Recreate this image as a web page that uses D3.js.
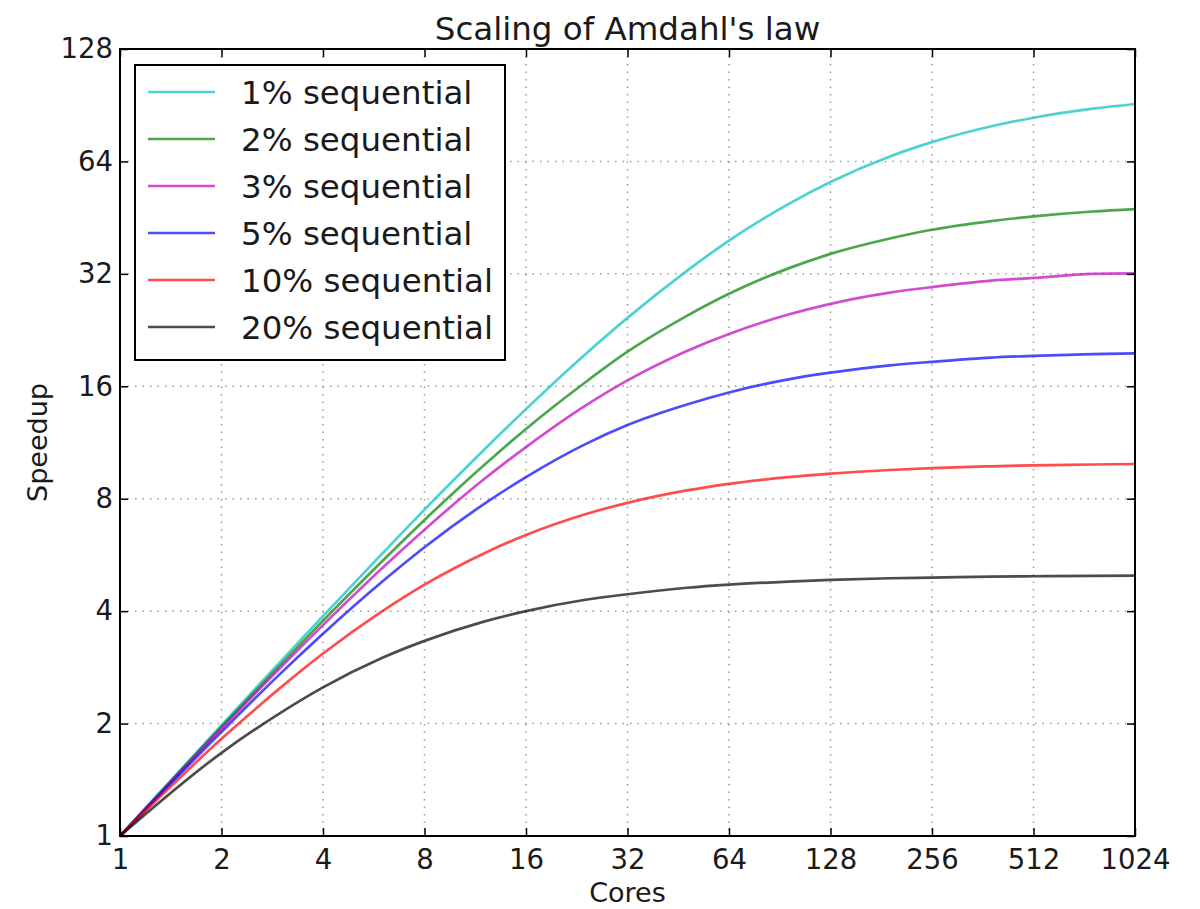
<!DOCTYPE html>
<html>
<head>
<meta charset="utf-8">
<script src="https://cdn.jsdelivr.net/npm/d3@7"></script>
<style>
  body { margin: 0; background: #fff; }
  svg text { font-family: "DejaVu Sans", sans-serif; fill: #1a1a1a; }
</style>
</head>
<body>
<div id="chart"></div>
<script>
// values
const cores = [1, 2, 3, 4, 6, 8, 12, 16, 24, 32, 48, 64, 96, 128, 192, 256, 384, 512, 768, 1024];
const seq1  = [1, 1.98, 2.94, 3.88, 5.71, 7.48, 10.8, 13.9, 19.5, 24.4, 32.6, 39.3, 49.2, 56.4, 66.0, 72.1, 79.5, 83.8, 88.6, 91.2];
const seq2  = [1, 1.96, 2.88, 3.77, 5.45, 7.02, 9.84, 12.3, 16.4, 19.8, 24.7, 28.3, 33.1, 36.2, 39.8, 42.0, 44.3, 45.6, 47.0, 47.7];
const seq3  = [1, 1.94, 2.83, 3.67, 5.22, 6.61, 9.02, 11.0, 14.2, 16.6, 19.9, 22.1, 24.9, 26.6, 28.5, 29.5, 30.7, 31.2, 32.0, 32.1];
const seq5  = [1, 1.90, 2.73, 3.48, 4.80, 5.93, 7.74, 9.14, 11.2, 12.6, 14.3, 15.4, 16.7, 17.4, 18.2, 18.6, 19.1, 19.3, 19.5, 19.6];
const seq10 = [1, 1.82, 2.50, 3.08, 4.00, 4.71, 5.71, 6.40, 7.27, 7.80, 8.42, 8.77, 9.14, 9.34, 9.55, 9.66, 9.77, 9.83, 9.88, 9.91];
const seq20 = [1, 1.67, 2.14, 2.50, 3.00, 3.33, 3.75, 4.00, 4.29, 4.44, 4.62, 4.71, 4.80, 4.85, 4.90, 4.92, 4.95, 4.96, 4.97, 4.98];

const seriesNames = ['1% sequential', '2% sequential', '3% sequential', '5% sequential', '10% sequential', '20% sequential'];
const seriesValues = [seq1, seq2, seq3, seq5, seq10, seq20];
const seriesColors = ['#00bfbf', '#008000', '#bf00bf', '#0000ff', '#ff0000', '#000000'];

const xTicks = [1, 2, 4, 8, 16, 32, 64, 128, 256, 512, 1024];
const yTicks = [1, 2, 4, 8, 16, 32, 64, 128];

const W = 1200, H = 909;
const margin = { left: 120, right: 65, top: 49, bottom: 73 };
const innerW = W - margin.left - margin.right;
const innerH = H - margin.top - margin.bottom;

const svg = d3.select('#chart').append('svg')
    .attr('width', W)
    .attr('height', H);

const g = svg.append('g')
    .attr('transform', `translate(${margin.left},${margin.top})`);

const x = d3.scaleLog().base(2).domain([1, 1024]).range([0, innerW]);
const y = d3.scaleLog().base(2).domain([1, 128]).range([innerH, 0]);

// grid
g.append('g').selectAll('line')
    .data(xTicks.slice(1, -1))
    .enter().append('line')
    .attr('x1', d => x(d)).attr('x2', d => x(d))
    .attr('y1', 0).attr('y2', innerH)
    .attr('stroke', '#999').attr('stroke-width', 1.5)
    .attr('stroke-dasharray', '1.5,6');

g.append('g').selectAll('line')
    .data(yTicks.slice(1, -1))
    .enter().append('line')
    .attr('y1', d => y(d)).attr('y2', d => y(d))
    .attr('x1', 0).attr('x2', innerW)
    .attr('stroke', '#999').attr('stroke-width', 1.5)
    .attr('stroke-dasharray', '1.5,6');

// lines
const line = d3.line()
    .x((d, i) => x(cores[i]))
    .y(d => y(d))
    .curve(d3.curveMonotoneX);

g.append('g').selectAll('path')
    .data(seriesValues)
    .enter().append('path')
    .attr('d', d => line(d))
    .attr('fill', 'none')
    .attr('stroke', (d, i) => seriesColors[i])
    .attr('stroke-opacity', 0.7)
    .attr('stroke-width', 2.7);

// axes: ticks inside, on all four sides
const fmt = d => d3.format('d')(d);
const styleAxis = sel => {
    sel.select('.domain').remove();
    sel.selectAll('.tick line').attr('stroke', '#000').attr('stroke-width', 1.5);
    sel.selectAll('.tick text').style('font-size', '27.5px').style('font-family', '"DejaVu Sans", sans-serif').attr('fill', '#1a1a1a');
};

g.append('g')
    .attr('transform', `translate(0,${innerH})`)
    .call(d3.axisBottom(x).tickValues(xTicks).tickFormat(fmt).tickSizeInner(-8).tickSizeOuter(0).tickPadding(13))
    .call(styleAxis);

g.append('g')
    .call(d3.axisTop(x).tickValues(xTicks).tickFormat('').tickSizeInner(-8).tickSizeOuter(0))
    .call(styleAxis);

g.append('g')
    .call(d3.axisLeft(y).tickValues(yTicks).tickFormat(fmt).tickSizeInner(-8).tickSizeOuter(0).tickPadding(7))
    .call(styleAxis);

g.append('g')
    .attr('transform', `translate(${innerW},0)`)
    .call(d3.axisRight(y).tickValues(yTicks).tickFormat('').tickSizeInner(-8).tickSizeOuter(0))
    .call(styleAxis);

// frame
g.append('rect')
    .attr('width', innerW).attr('height', innerH)
    .attr('fill', 'none').attr('stroke', '#000').attr('stroke-width', 2);

// title and labels
svg.append('text')
    .attr('x', margin.left + innerW / 2).attr('y', 40)
    .attr('text-anchor', 'middle')
    .style('font-size', '32.5px')
    .text("Scaling of Amdahl's law");

svg.append('text')
    .attr('x', margin.left + innerW / 2).attr('y', 902)
    .attr('text-anchor', 'middle')
    .style('font-size', '27px')
    .text('Cores');

svg.append('text')
    .attr('transform', `translate(47,${margin.top + innerH / 2}) rotate(-90)`)
    .attr('text-anchor', 'middle')
    .style('font-size', '27px')
    .text('Speedup');

// legend
const legend = g.append('g').attr('transform', 'translate(15,16)');

legend.append('rect')
    .attr('width', 370).attr('height', 295)
    .attr('fill', '#fff').attr('stroke', '#000').attr('stroke-width', 2);

const rows = legend.selectAll('.row')
    .data(seriesNames)
    .enter().append('g')
    .attr('class', 'row')
    .attr('transform', (d, i) => `translate(0,${27 + i * 47})`);

rows.append('line')
    .attr('x1', 13).attr('x2', 80)
    .attr('stroke', (d, i) => seriesColors[i])
    .attr('stroke-opacity', 0.7)
    .attr('stroke-width', 2.7);

rows.append('text')
    .attr('x', 106).attr('y', 11.5)
    .style('font-size', '32.5px')
    .text(d => d);
</script>
</body>
</html>
